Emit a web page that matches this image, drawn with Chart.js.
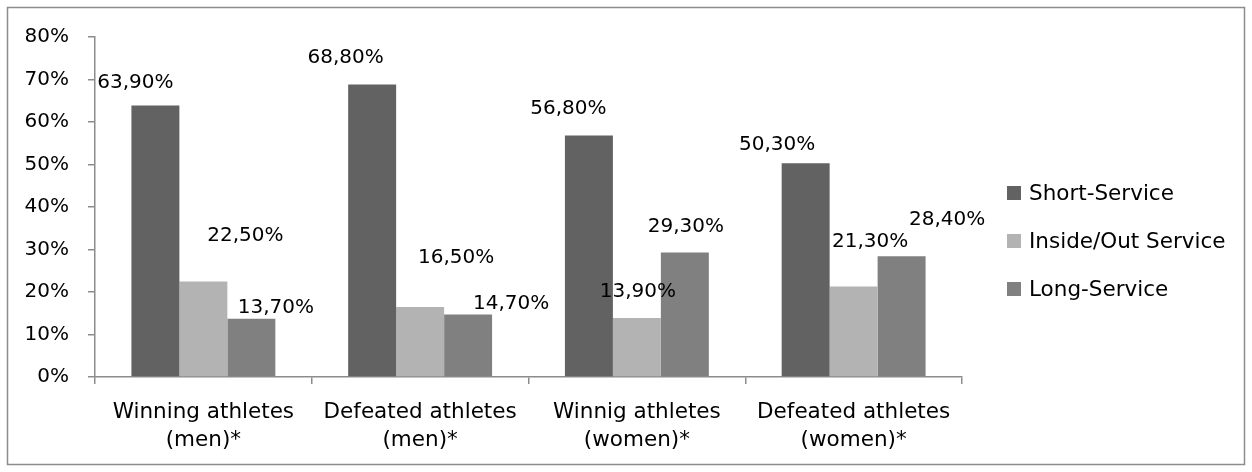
<!DOCTYPE html>
<html>
<head>
<meta charset="utf-8">
<style>
  html, body { margin: 0; padding: 0; background: #ffffff; }
  #wrap { position: relative; width: 1252px; height: 472px; }
  canvas { display: block; }
</style>
<script src="https://cdn.jsdelivr.net/npm/chart.js@4/dist/chart.umd.min.js"></script>
</head>
<body>
<div id="wrap"><canvas id="chart" width="1252" height="472"></canvas></div>
<script>
// Groups of athletes (two-line axis labels)
const categories = [
  ['Winning athletes', '(men)*'],
  ['Defeated athletes', '(men)*'],
  ['Winnig athletes', '(women)*'],
  ['Defeated athletes', '(women)*']
];

// Share of each service type, in percent
const shortService = [63.9, 68.8, 56.8, 50.3];
const insideOutService = [22.5, 16.5, 13.9, 21.3];
const longService = [13.7, 14.7, 29.3, 28.4];

const seriesNames = ['Short-Service', 'Inside/Out Service', 'Long-Service'];
const yTicks = [0, 10, 20, 30, 40, 50, 60, 70, 80];

// Where each value label sits relative to the top centre of its bar (px)
const labelShiftX = [
  [-20, -26.5, -20.5, -28.5],
  [42, 36, 1, 16.5],
  [24.5, 43, 1, 45.5]
];
const labelShiftY = [
  [-22.5, -27, -26.5, -18],
  [-46, -49, -26, -44.5],
  [-11, -10.5, -25.5, -37]
];

const FONT = '"DejaVu Sans", sans-serif';
const NUM_SIZE = 20;
const TEXT_SIZE = 21.5;
const colors = ['#626262', '#b3b3b3', '#808080'];
const axisColor = '#8c8c8c';

const fmt = v => v.toFixed(2).replace('.', ',') + '%';

// Outer frame of the chart
const framePlugin = {
  id: 'frame',
  beforeDraw(chart) {
    const ctx = chart.ctx;
    ctx.save();
    ctx.fillStyle = '#ffffff';
    ctx.fillRect(0, 0, chart.width, chart.height);
    ctx.strokeStyle = '#8c8c8c';
    ctx.lineWidth = 1.5;
    ctx.strokeRect(7.5, 7.5, 1237, 457);
    ctx.restore();
  }
};

// Value labels above the bars
const valueLabelPlugin = {
  id: 'valueLabels',
  afterDatasetsDraw(chart) {
    const ctx = chart.ctx;
    ctx.save();
    ctx.font = NUM_SIZE + 'px ' + FONT;
    ctx.fillStyle = '#000000';
    ctx.textAlign = 'center';
    ctx.textBaseline = 'middle';
    chart.data.datasets.forEach((ds, si) => {
      const meta = chart.getDatasetMeta(si);
      meta.data.forEach((bar, i) => {
        ctx.fillText(fmt(ds.data[i]), bar.x + labelShiftX[si][i], bar.y + labelShiftY[si][i]);
      });
    });
    ctx.restore();
  }
};

// Legend to the right of the plot
const sideLegendPlugin = {
  id: 'sideLegend',
  afterDraw(chart) {
    const ctx = chart.ctx;
    const x0 = 1007, y0 = 193, step = 48, box = 14;
    ctx.save();
    ctx.font = TEXT_SIZE + 'px ' + FONT;
    ctx.textAlign = 'left';
    ctx.textBaseline = 'middle';
    chart.data.datasets.forEach((ds, i) => {
      const y = y0 + i * step;
      ctx.fillStyle = ds.backgroundColor;
      ctx.fillRect(x0, y - box / 2, box, box);
      ctx.fillStyle = '#000000';
      ctx.fillText(ds.label, x0 + 22, y + 1);
    });
    ctx.restore();
  }
};

const seriesValues = [shortService, insideOutService, longService];

new Chart(document.getElementById('chart'), {
  type: 'bar',
  data: {
    labels: categories,
    datasets: seriesValues.map((vals, i) => ({
      label: seriesNames[i],
      data: vals,
      backgroundColor: colors[i],
      borderWidth: 0,
      barPercentage: 1,
      categoryPercentage: 0.664
    }))
  },
  options: {
    responsive: false,
    animation: false,
    devicePixelRatio: 1,
    layout: { padding: { top: 37, right: 290, bottom: 0, left: 0 } },
    plugins: {
      legend: { display: false },
      tooltip: { enabled: false }
    },
    scales: {
      x: {
        offset: true,
        grid: {
          offset: true,
          drawOnChartArea: false,
          drawTicks: true,
          tickLength: 7,
          color: axisColor,
          lineWidth: 1.5
        },
        border: { display: true, color: axisColor, width: 1.5 },
        ticks: {
          color: '#000000',
          font: { family: FONT, size: TEXT_SIZE, lineHeight: 1.3 },
          padding: 14,
          maxRotation: 0,
          autoSkip: false
        },
        afterFit(scale) { scale.height = 95; }
      },
      y: {
        min: 0,
        max: 80,
        afterBuildTicks(scale) { scale.ticks = yTicks.map(v => ({ value: v })); },
        grid: {
          drawOnChartArea: false,
          drawTicks: true,
          tickLength: 7,
          color: axisColor,
          lineWidth: 1.5
        },
        border: { display: true, color: axisColor, width: 1.5 },
        ticks: {
          color: '#000000',
          font: { family: FONT, size: NUM_SIZE },
          padding: 19,
          callback: v => v + '%'
        },
        afterFit(scale) { scale.width = 95; }
      }
    }
  },
  plugins: [framePlugin, valueLabelPlugin, sideLegendPlugin]
});
</script>
</body>
</html>
